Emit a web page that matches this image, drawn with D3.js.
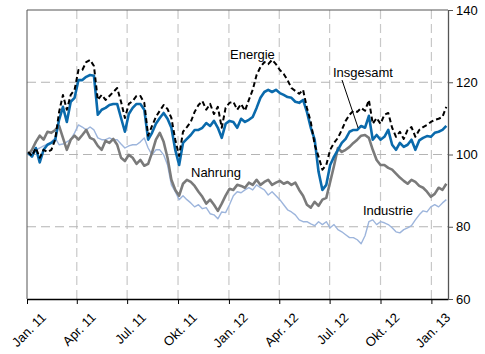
<!DOCTYPE html>
<html>
<head>
<meta charset="utf-8">
<script src="https://cdn.jsdelivr.net/npm/d3@7.9.0/dist/d3.min.js"></script>
<style>
  body { margin: 0; background: #fff; }
  svg { display: block; font-family: "Liberation Sans", Arial, Helvetica, sans-serif; }
</style>
</head>
<body>
<div id="chart"></div>
<script>
// weekly observations, first one on 3 Jan 2011
const firstWeek = '2011-01-03';
const endDate = '2013-01-31';

const insgesamt = [100.5, 99.4, 101.8, 97.8, 101.3, 102.7, 103.2, 104.1, 109.6, 113.2, 109.0, 114.6, 115.7, 120.6, 120.6, 121.5, 122.0, 121.8, 111.0, 112.4,
  112.9, 113.7, 114.0, 114.0, 110.1, 106.3, 111.2, 112.9, 114.0, 114.0, 112.4, 104.1, 106.0, 108.5, 110.1, 111.5, 109.9, 107.4, 101.3, 97.1,
  103.2, 104.3, 105.4, 106.8, 106.8, 107.4, 108.7, 107.9, 109.3, 107.4, 104.6, 108.5, 109.3, 109.0, 107.4, 109.9, 109.0, 109.6, 110.4, 112.9,
  115.7, 117.3, 117.9, 117.3, 117.9, 117.0, 116.5, 115.9, 115.7, 114.6, 114.3, 115.1, 111.8, 107.4, 104.1, 95.2, 90.2, 91.6, 97.1, 99.4,
  101.3, 103.2, 104.3, 106.3, 106.8, 106.8, 107.9, 107.4, 110.7, 104.1, 105.4, 104.1, 104.9, 106.8, 102.7, 101.3, 103.2, 102.1, 102.7, 104.1,
  101.3, 103.9, 104.6, 105.1, 104.9, 106.0, 106.3, 106.8, 107.9];

const energie = [100.7, 99.6, 101.8, 99.1, 101.3, 100.7, 101.3, 104.1, 111.8, 116.5, 112.4, 116.5, 117.9, 123.4, 123.4, 125.6, 126.2, 124.5, 115.1, 116.5,
  115.1, 116.2, 117.3, 118.4, 114.6, 110.1, 114.0, 114.8, 116.2, 116.2, 114.3, 105.2, 107.9, 110.4, 112.1, 113.7, 112.6, 110.1, 104.1, 99.6,
  106.3, 107.6, 109.0, 111.8, 113.7, 114.8, 112.4, 114.0, 111.2, 113.2, 107.4, 112.9, 114.3, 114.6, 112.4, 114.0, 112.1, 115.1, 117.9, 122.0,
  124.2, 125.6, 125.0, 126.2, 125.0, 123.4, 122.3, 120.6, 118.4, 117.6, 116.8, 117.9, 112.9, 109.0, 102.7, 99.4, 95.8, 97.1, 101.3, 103.2,
  104.6, 106.8, 109.3, 111.0, 112.1, 111.8, 112.9, 112.1, 115.1, 108.5, 110.1, 108.5, 111.0, 111.5, 107.4, 104.9, 106.3, 104.3, 106.8, 107.6,
  104.9, 106.8, 107.6, 108.2, 109.0, 109.6, 109.9, 110.4, 113.2];

const nahrung = [99.9, 101.3, 103.5, 105.2, 104.1, 106.3, 106.0, 106.8, 107.9, 104.6, 101.3, 104.1, 105.2, 104.1, 105.4, 106.8, 104.6, 104.1, 102.4, 101.3,
  103.8, 103.2, 104.3, 102.7, 99.1, 98.2, 99.9, 99.1, 97.4, 98.5, 96.9, 97.4, 100.5, 104.1, 106.0, 103.5, 99.1, 93.0, 90.2, 88.6,
  91.9, 93.0, 92.4, 91.3, 89.7, 88.3, 86.4, 87.5, 86.1, 84.4, 86.4, 88.6, 90.5, 90.2, 91.6, 91.3, 90.8, 92.2, 91.6, 93.0,
  91.6, 92.4, 93.0, 91.6, 92.2, 92.7, 91.9, 92.4, 91.6, 92.2, 90.2, 88.6, 86.1, 85.3, 86.9, 85.8, 87.5, 88.0, 92.4, 96.9,
  101.8, 100.7, 101.3, 102.1, 103.2, 104.1, 105.2, 105.4, 104.6, 101.3, 98.5, 97.1, 97.1, 96.3, 95.8, 94.7, 93.6, 92.7, 91.9, 93.0,
  92.4, 91.3, 90.8, 89.7, 88.3, 89.1, 90.8, 90.2, 91.9];

const industrie = [99.9, 100.5, 101.3, 101.8, 102.4, 102.9, 103.5, 104.6, 102.7, 102.9, 103.5, 104.1, 106.0, 108.2, 107.6, 106.8, 107.6, 106.8, 104.6, 104.1,
  104.1, 104.6, 104.1, 104.1, 102.9, 101.8, 102.4, 102.7, 102.7, 103.5, 104.6, 101.8, 99.9, 101.3, 101.3, 99.9, 97.1, 91.6, 89.7, 87.5,
  88.6, 87.5, 86.6, 85.5, 86.1, 85.0, 85.3, 83.6, 83.3, 82.2, 84.1, 83.9, 86.1, 88.6, 89.7, 89.4, 90.2, 90.8, 90.2, 91.6,
  90.8, 90.2, 88.8, 89.7, 88.6, 87.5, 86.1, 84.7, 84.1, 83.3, 81.9, 81.4, 81.4, 80.8, 80.3, 81.4, 80.6, 81.4, 79.7, 80.6,
  79.2, 78.6, 77.8, 77.0, 77.0, 76.4, 75.3, 77.5, 81.4, 81.9, 80.6, 81.4, 81.1, 80.6, 79.7, 78.6, 78.3, 79.2, 79.7, 80.3,
  81.9, 83.3, 84.4, 84.1, 85.5, 86.1, 85.5, 86.6, 87.5];

const tickDates = ['2011-01-01', '2011-04-01', '2011-07-01', '2011-10-01', '2012-01-01',
  '2012-04-01', '2012-07-01', '2012-10-01', '2013-01-01'];
const tickLabels = ['Jan. 11', 'Apr. 11', 'Jul. 11', 'Okt. 11', 'Jan. 12',
  'Apr. 12', 'Jul. 12', 'Okt. 12', 'Jan. 13'];
const yTicks = [60, 80, 100, 120, 140];

const width = 485;
const height = 354;
const margin = { top: 10, right: 37, bottom: 55, left: 27 };

const parse = d3.utcParse('%Y-%m-%d');
const start = parse(firstWeek);
const dates = insgesamt.map((d, i) => d3.utcDay.offset(start, 7 * i));
const ticks = tickDates.map(parse);

const svg = d3.select('#chart')
  .append('svg')
  .attr('width', width)
  .attr('height', height);

const xScale = d3.scaleUtc()
  .domain([parse('2011-01-01'), parse(endDate)])
  .range([margin.left, width - margin.right]);

const yScale = d3.scaleLinear()
  .domain([60, 140])
  .range([height - margin.bottom, margin.top]);

// gridlines
svg.append('g')
  .selectAll('line')
  .data(ticks.slice(1))
  .join('line')
  .attr('x1', (d) => xScale(d))
  .attr('x2', (d) => xScale(d))
  .attr('y1', margin.top)
  .attr('y2', height - margin.bottom)
  .attr('stroke', '#c8c8c8')
  .attr('stroke-width', 1.2)
  .attr('stroke-dasharray', '9,5');

svg.append('g')
  .selectAll('line')
  .data([80, 100, 120])
  .join('line')
  .attr('x1', margin.left)
  .attr('x2', width - margin.right)
  .attr('y1', (d) => yScale(d))
  .attr('y2', (d) => yScale(d))
  .attr('stroke', '#b4b4b4')
  .attr('stroke-width', 1.2)
  .attr('stroke-dasharray', '9,5');

// frame
svg.append('line')
  .attr('x1', margin.left).attr('x2', width - margin.right)
  .attr('y1', margin.top).attr('y2', margin.top)
  .attr('stroke', '#555');
svg.append('line')
  .attr('x1', margin.left).attr('x2', margin.left)
  .attr('y1', margin.top).attr('y2', height - margin.bottom)
  .attr('stroke', '#555');

const series = [
  { name: 'Industrie', values: industrie, color: '#9db5dc', width: 1.4, dash: null },
  { name: 'Nahrung', values: nahrung, color: '#7a7a7a', width: 2.6, dash: null },
  { name: 'Insgesamt', values: insgesamt, color: '#0a6aac', width: 2.6, dash: null },
  { name: 'Energie', values: energie, color: '#000', width: 2, dash: '5,3' },
];

const line = d3.line()
  .x((d, i) => xScale(dates[i]))
  .y((d) => yScale(d))
  .curve(d3.curveLinear);

svg.append('g')
  .selectAll('path')
  .data(series)
  .join('path')
  .attr('d', (d) => line(d.values))
  .attr('fill', 'none')
  .attr('stroke', (d) => d.color)
  .attr('stroke-width', (d) => d.width)
  .attr('stroke-dasharray', (d) => d.dash)
  .attr('stroke-linejoin', 'round');

// axes
const xAxis = svg.append('g')
  .attr('transform', `translate(0,${height - margin.bottom})`)
  .call(d3.axisBottom(xScale).tickValues(ticks).tickSize(5).tickSizeOuter(0).tickFormat((d, i) => tickLabels[i]));
xAxis.select('.domain').attr('stroke', '#000').attr('stroke-width', 1.3);
xAxis.selectAll('.tick line').attr('stroke', '#000');
xAxis.selectAll('.tick text')
  .attr('font-size', 13)
  .attr('fill', '#000')
  .attr('text-anchor', 'end')
  .attr('transform', 'translate(10,10) rotate(-45)')
  .attr('dy', '0.7em')
  .attr('y', 4)
  .attr('x', 0);

const yAxis = svg.append('g')
  .attr('transform', `translate(${width - margin.right},0)`)
  .call(d3.axisRight(yScale).tickValues(yTicks).tickSize(5).tickSizeOuter(0).tickPadding(3));
yAxis.select('.domain').attr('stroke', '#555').attr('stroke-width', 1.3);
yAxis.selectAll('.tick line').attr('stroke', '#555');
yAxis.selectAll('.tick text').attr('font-size', 13).attr('fill', '#000');

// labels
const labels = [
  { text: 'Energie', x: 230, y: 59 },
  { text: 'Insgesamt', x: 333, y: 77 },
  { text: 'Nahrung', x: 191, y: 177 },
  { text: 'Industrie', x: 363, y: 215 },
];
svg.append('g')
  .selectAll('text')
  .data(labels)
  .join('text')
  .attr('x', (d) => d.x)
  .attr('y', (d) => d.y)
  .attr('font-size', 13)
  .text((d) => d.text);

// leader line from the Insgesamt label to its series
svg.append('line')
  .attr('x1', 342).attr('y1', 80)
  .attr('x2', xScale(dates[86]) - 3).attr('y2', yScale(insgesamt[86]) + 2)
  .attr('stroke', '#000')
  .attr('stroke-width', 1);
</script>
</body>
</html>
